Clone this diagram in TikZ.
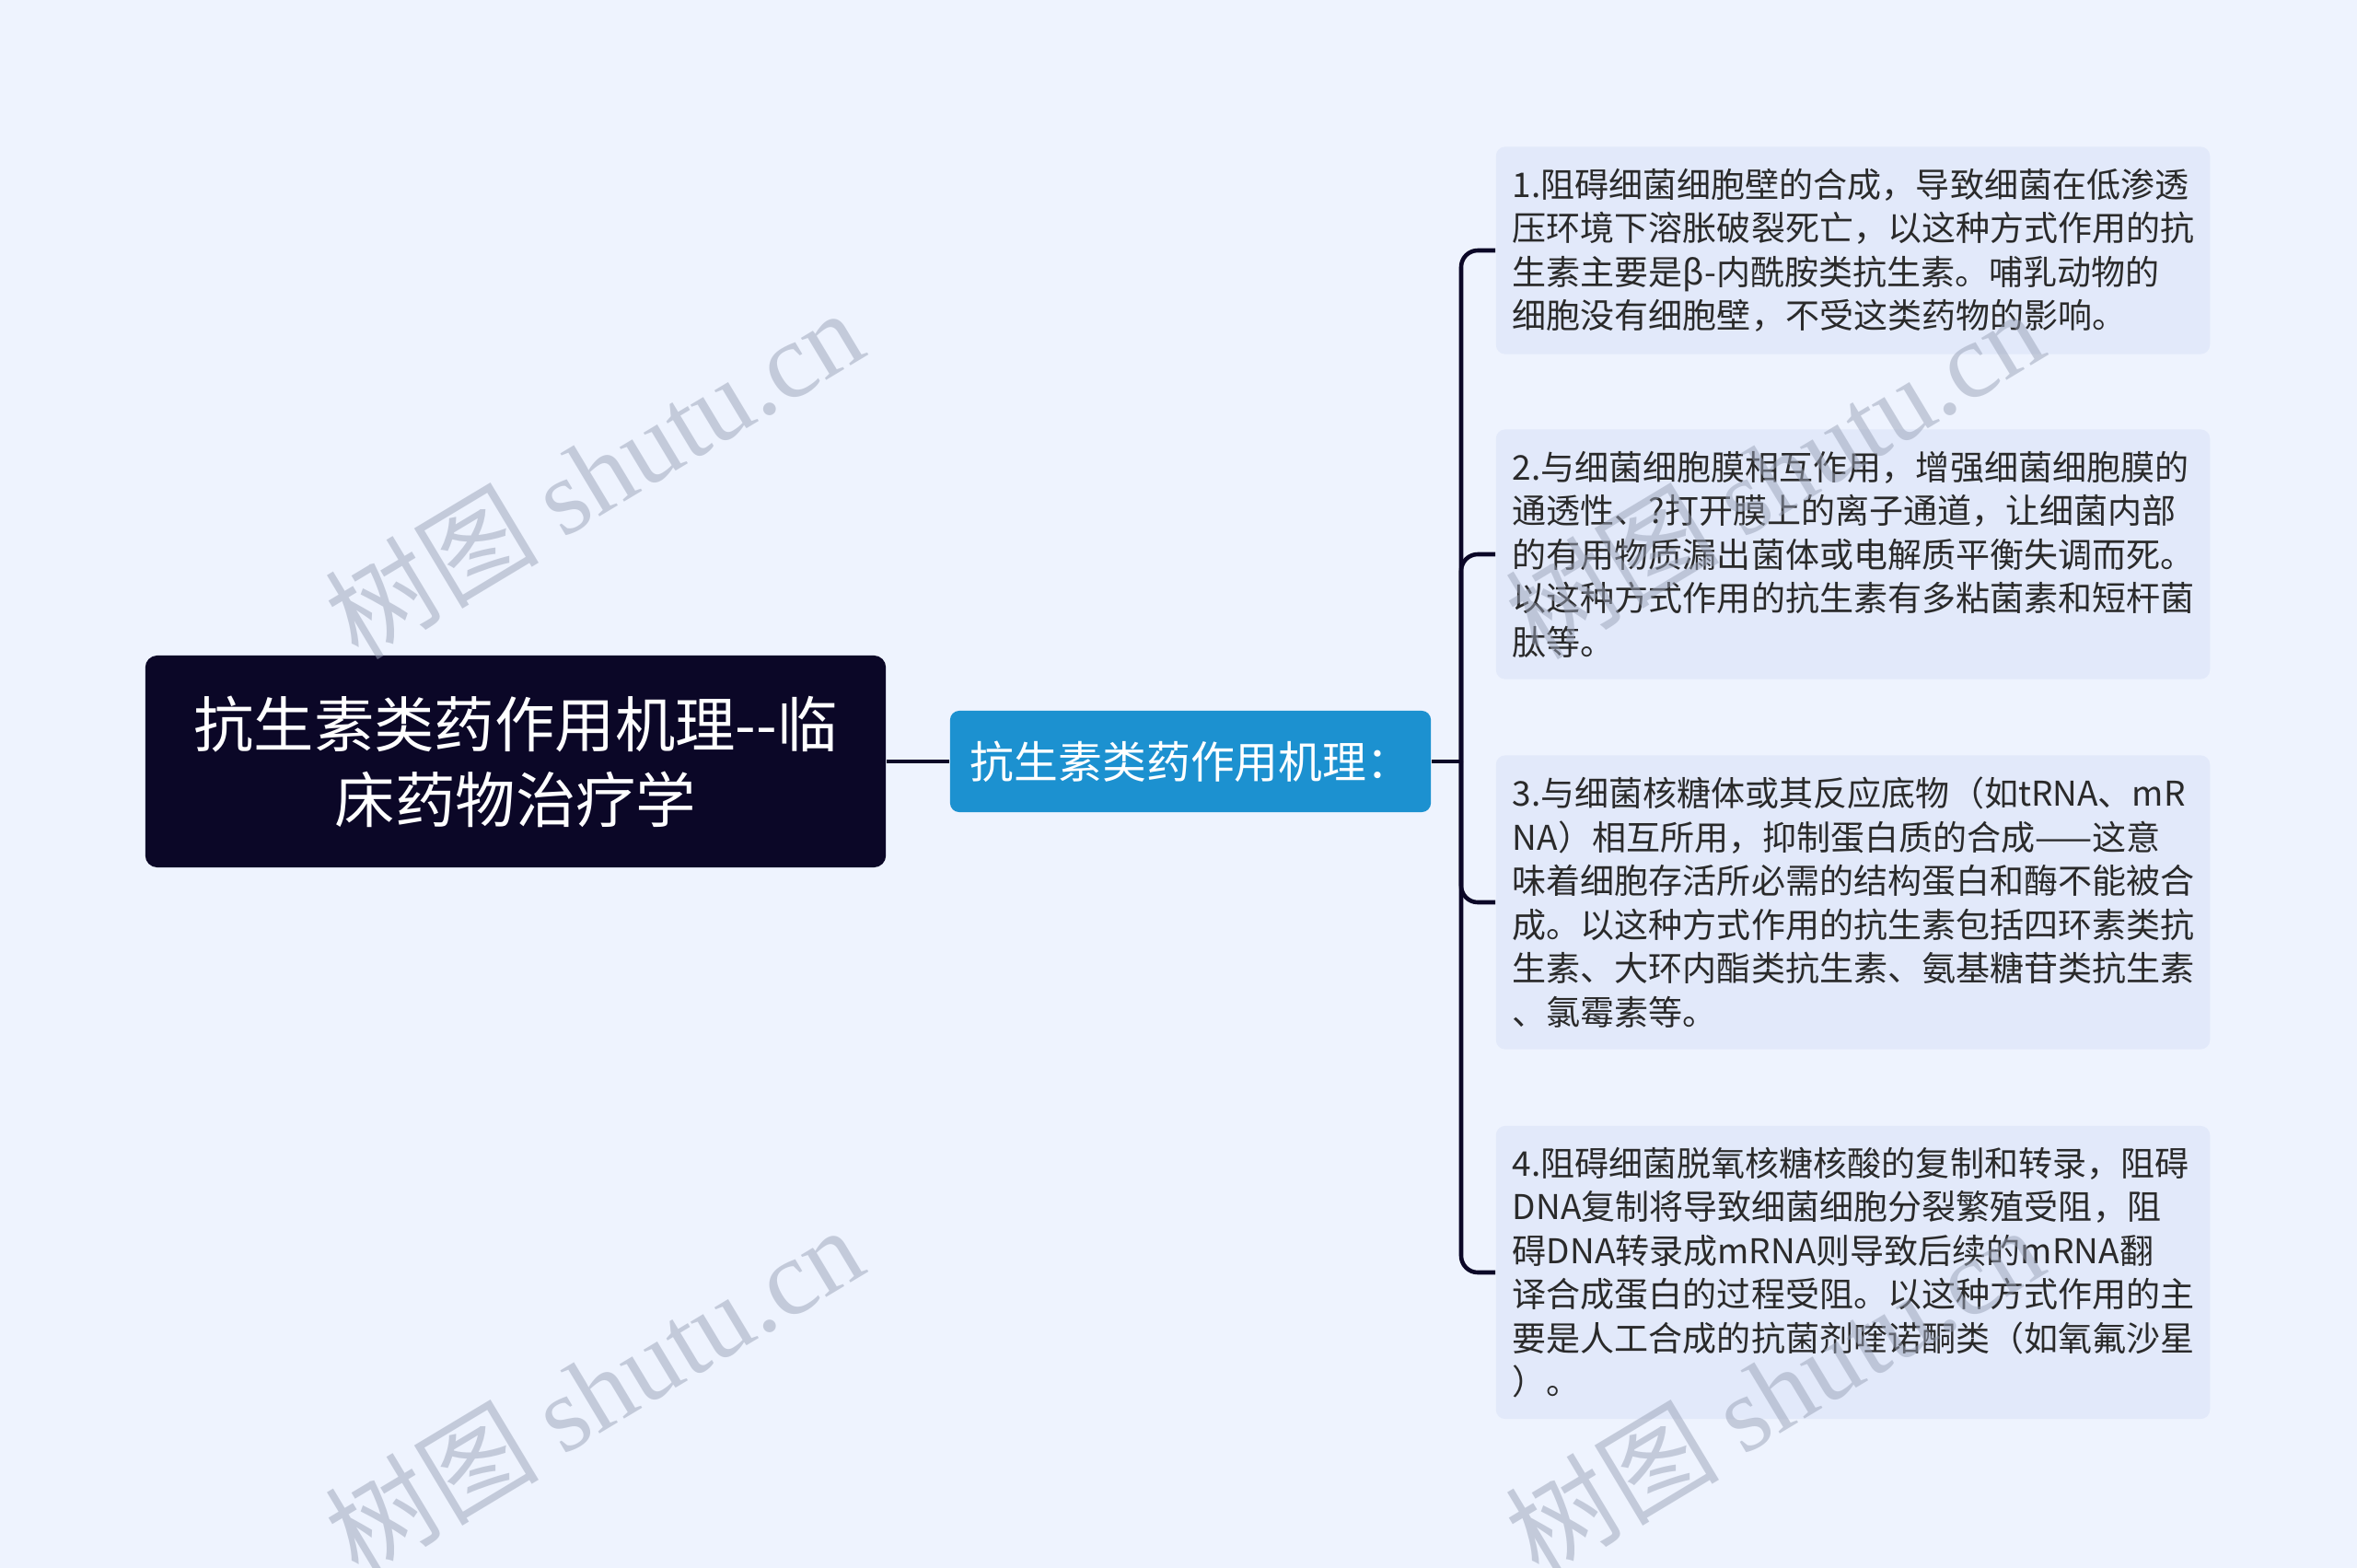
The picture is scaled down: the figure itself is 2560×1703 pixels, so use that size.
\documentclass[tikz,border=0pt]{standalone}
\usepackage{fontspec}
\setmainfont{Noto Sans CJK SC}
\newfontfamily\wmcjk{Noto Sans CJK SC}
\newfontfamily\wmlat{Liberation Serif}
\definecolor{bgc}{HTML}{EEF3FE}
\definecolor{rootc}{HTML}{0B0727}
\definecolor{midc}{HTML}{1C91D0}
\definecolor{leafc}{HTML}{E2E9FA}
\definecolor{linkc}{HTML}{0B0727}
\definecolor{leaftext}{HTML}{2A2A2A}
\definecolor{wmc}{HTML}{9AA3B8}
\begin{document}
\begin{tikzpicture}[x=0.01cm,y=-0.01cm,
  rootbox/.style={fill=rootc, rounded corners=0.13cm, minimum width=8.04cm, minimum height=2.30cm, text=white, align=center, inner sep=0pt, font=\fontsize{18.6pt}{23.3pt}\selectfont},
  midbox/.style={fill=midc, rounded corners=0.1cm, minimum width=5.22cm, minimum height=1.10cm, text=white, inner sep=0pt, font=\fontsize{13.6pt}{16pt}\selectfont},
  leafbox/.style={fill=leafc, rounded corners=0.1cm, minimum width=7.75cm, text width=7.39cm, inner xsep=0.18cm, inner ysep=0pt, align=left, text=leaftext, font=\fontsize{10.53pt}{13.5pt}\selectfont},
  link/.style={draw=linkc, line width=1.3pt},
  wm/.style={rotate=31, text=wmc, text opacity=0.5, inner sep=0pt, font=\fontsize{33pt}{33pt}\selectfont}]
\useasboundingbox (0,0) rectangle (2560,1703);
\fill[bgc] (0,0) rectangle (2560,1703);
\clip (0,0) rectangle (2560,1703);

\node[rootbox] (root) at (560,827) {抗生素类药作用机理-{}-临\\床药物治疗学};
\node[midbox] (mid) at (1293,827) {抗生素类药作用机理：};

\node[leafbox, minimum height=2.25cm] (l1) at (2012.5,272) {1.阻碍细菌细胞壁的合成，导致细菌在低渗透\\压环境下溶胀破裂死亡，以这种方式作用的抗\\生素主要是β-内酰胺类抗生素。哺乳动物的\\细胞没有细胞壁，不受这类药物的影响。};
\node[leafbox, minimum height=2.71cm] (l2) at (2012.5,602) {2.与细菌细胞膜相互作用，增强细菌细胞膜的\\通透性、?打开膜上的离子通道，让细菌内部\\的有用物质漏出菌体或电解质平衡失调而死。\\以这种方式作用的抗生素有多粘菌素和短杆菌\\肽等。};
\node[leafbox, minimum height=3.19cm] (l3) at (2012.5,980) {3.与细菌核糖体或其反应底物（如tRNA、mR\\NA）相互所用，抑制蛋白质的合成——这意\\味着细胞存活所必需的结构蛋白和酶不能被合\\成。以这种方式作用的抗生素包括四环素类抗\\生素、大环内酯类抗生素、氨基糖苷类抗生素\\、氯霉素等。};
\node[leafbox, minimum height=3.18cm] (l4) at (2012.5,1382) {4.阻碍细菌脱氧核糖核酸的复制和转录，阻碍\\DNA复制将导致细菌细胞分裂繁殖受阻，阻\\碍DNA转录成mRNA则导致后续的mRNA翻\\译合成蛋白的过程受阻。以这种方式作用的主\\要是人工合成的抗菌剂喹诺酮类（如氧氟沙星\\）。};

\draw[link] (root.east) -- (mid.west);
\coordinate (J) at (1587,827);
\draw[link] (mid.east) -- (J);
\foreach \l in {l1,l2,l3,l4}
  \draw[link, rounded corners=0.18cm] (J) |- (\l.west);

\node[wm] (w1) at (645,514) {{\wmcjk 树图} {\wmlat shutu.cn}};
\node[wm] (w2) at (645,1510) {{\wmcjk 树图} {\wmlat shutu.cn}};
\node[wm] (w3) at (1927,514) {{\wmcjk 树图} {\wmlat shutu.cn}};
\node[wm] (w4) at (1927,1510) {{\wmcjk 树图} {\wmlat shutu.cn}};
\end{tikzpicture}
\end{document}
